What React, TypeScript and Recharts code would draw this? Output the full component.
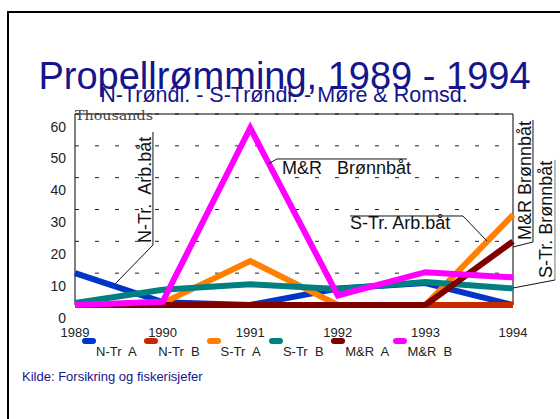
import React from 'react';
import {
  LineChart, Line, XAxis, YAxis, CartesianGrid, Legend, ReferenceArea, ReferenceLine, ReferenceDot
} from 'recharts';

// Thousands of escaped fish per year
const years = [1989, 1990, 1991, 1992, 1993, 1994];
const ntrA = [10, 0.9, 0, 5.2, 6.9, 0];
const ntrB = [0, 0, 0, 0, 0, 0];
const strA = [0, 0.6, 13.8, 0, 0, 28.3];
const strB = [0.6, 4.8, 6.5, 5, 7.2, 5.2];
const mrA = [0, 0, 0, 0, 0, 20];
const mrB = [0, 1, 55.6, 3, 10.3, 8.7];
const yTicks = [0, 10, 20, 30, 40, 50, 60];

const series = [
  { key: 'ntrA', name: 'N-Tr  A', color: '#0036c8', values: ntrA },
  { key: 'ntrB', name: 'N-Tr  B', color: '#c82a00', values: ntrB },
  { key: 'strA', name: 'S-Tr  A', color: '#ff8000', values: strA },
  { key: 'strB', name: 'S-Tr  B', color: '#008080', values: strB },
  { key: 'mrA', name: 'M&R  A', color: '#800000', values: mrA },
  { key: 'mrB', name: 'M&R  B', color: '#ff00ff', values: mrB },
];

const rows = years.map((year, i) => {
  const row: Record<string, number> = { year };
  series.forEach(s => { row[s.key] = s.values[i]; });
  return row;
});

const FONT = '"Liberation Sans", Arial, sans-serif';
const NAVY = '#15158c';

const YTick = (props: any) => (
  <text x={props.x - 9} y={props.y + 17.5} textAnchor="end" fontSize={14} fontFamily={FONT} fill="#222">
    {props.payload.value}
  </text>
);

const XTick = (props: any) => (
  <text x={props.x} y={props.y + 31.5} textAnchor="middle" fontSize={13} fontFamily={FONT} fill="#222">
    {props.payload.value}
  </text>
);

const flatLabel = (label: string) => (p: any) => (
  <text x={p.cx} y={p.cy} fontSize={18} fontFamily={FONT} fill="#111" style={{ whiteSpace: 'pre' }}>
    {label}
  </text>
);

const upLabel = (label: string) => (p: any) => (
  <text x={p.cx} y={p.cy} transform={`rotate(-90 ${p.cx} ${p.cy})`} fontSize={18} fontFamily={FONT}
    fill="#111" style={{ whiteSpace: 'pre' }}>
    {label}
  </text>
);

const LegendBox = (props: any) => {
  const items = [...(props.payload || [])].sort(
    (a: any, b: any) => series.findIndex(s => s.name === a.value) - series.findIndex(s => s.name === b.value)
  );
  return (
    <div style={{ display: 'flex', fontFamily: FONT, fontSize: 13, color: '#222' }}>
      {items.map((e: any) => (
        <div key={e.value} style={{ width: 62.3, position: 'relative', height: 24 }}>
          <div style={{ position: 'absolute', left: 0, top: 1, width: 14, height: 6, borderRadius: 3, background: e.color }} />
          <div style={{ position: 'absolute', left: 14, top: 7, whiteSpace: 'pre' }}>{e.value}</div>
        </div>
      ))}
    </div>
  );
};

const leader = { stroke: '#111', strokeWidth: 1 };

export default function App() {
  return (
    <div style={{ position: 'absolute', left: 0, top: 0, width: 560, height: 419, overflow: 'hidden', background: '#fff' }}>
      <div style={{ position: 'absolute', left: 7, top: 11, width: 700, height: 600, border: '2.5px solid #000' }} />
      <svg width={560} height={419} style={{ position: 'absolute', left: 0, top: 0 }}>
        <text x={284.5} y={89} textAnchor="middle" fontSize={38} fontFamily={FONT} fill={NAVY}>
          Propellrømming, 1989 - 1994
        </text>
        <text x={284} y={102} textAnchor="middle" fontSize={21.5} fontFamily={FONT} fill={NAVY}>
          N-Trøndl. - S-Trøndl. - Møre &amp; Romsd.
        </text>
        <text x={22} y={381} fontSize={13} fontFamily={FONT} fill={NAVY}>
          Kilde: Forsikring og fiskerisjefer
        </text>
      </svg>
      <div style={{ position: 'absolute', left: 0, top: 0 }}>
        <LineChart width={560} height={419} data={rows} margin={{ top: 114, right: 47, bottom: 84, left: 35 }}>
          <CartesianGrid vertical={false} stroke="#222" strokeDasharray="4 16" />
          <XAxis dataKey="year" type="number" domain={[1989, 1994]} ticks={years} axisLine={false}
            tickLine={false} tickSize={0} tickMargin={0} height={30} tick={<XTick />} interval={0} />
          <YAxis domain={[0, 60]} ticks={yTicks} axisLine={false} tickLine={false} tickSize={0}
            tickMargin={0} width={40} tick={<YTick />} interval={0} />
          <ReferenceArea x1={1989} x2={1994} y1={0} y2={60} fill="none" fillOpacity={0} stroke="#000" strokeWidth={1} />
          <Legend layout="vertical" align="center" verticalAlign="middle" content={<LegendBox />}
            wrapperStyle={{ left: 82, top: 337, width: 420, height: 30 }} />
          {series.map(s => (
            <Line key={s.key} dataKey={s.key} name={s.name} stroke={s.color} strokeWidth={6}
              dot={false} activeDot={false} isAnimationActive={false} legendType="line" />
          ))}

          {/* N-Tr. Arb.båt */}
          <ReferenceLine segment={[{ x: 1989.89, y: 54.35 }, { x: 1989.89, y: 18.85 }]} {...leader} ifOverflow="visible" />
          <ReferenceLine segment={[{ x: 1989.89, y: 18.85 }, { x: 1989.457, y: 6.6 }]} {...leader} ifOverflow="visible" />
          <ReferenceDot x={1989.862} y={19.48} r={0} ifOverflow="visible" shape={upLabel('N-Tr.  Arb.båt')} />

          {/* M&R Brønnbåt (flat) */}
          <ReferenceLine segment={[{ x: 1991.306, y: 45.87 }, { x: 1992.79, y: 45.87 }]} {...leader} ifOverflow="visible" />
          <ReferenceLine segment={[{ x: 1991.306, y: 45.87 }, { x: 1991.203, y: 44.3 }]} {...leader} ifOverflow="visible" />
          <ReferenceDot x={1991.363} y={41.0} r={0} ifOverflow="visible" shape={flatLabel('M&R   Brønnbåt')} />

          {/* S-Tr. Arb.båt */}
          <ReferenceLine segment={[{ x: 1992.139, y: 27.96 }, { x: 1993.429, y: 27.96 }]} {...leader} ifOverflow="visible" />
          <ReferenceLine segment={[{ x: 1993.429, y: 27.96 }, { x: 1993.703, y: 20.1 }]} {...leader} ifOverflow="visible" />
          <ReferenceDot x={1992.139} y={23.72} r={0} ifOverflow="visible" shape={flatLabel('S-Tr. Arb.båt')} />

          {/* M&R Brønnbåt (upright) */}
          <ReferenceLine segment={[{ x: 1994.228, y: 58.12 }, { x: 1994.228, y: 19.79 }]} {...leader} ifOverflow="visible" />
          <ReferenceLine segment={[{ x: 1994.228, y: 19.79 }, { x: 1994, y: 18.22 }]} {...leader} ifOverflow="visible" />
          <ReferenceDot x={1994.205} y={20.42} r={0} ifOverflow="visible" shape={upLabel('M&R Brønnbåt')} />

          {/* S-Tr. Brønnbåt */}
          <ReferenceLine segment={[{ x: 1994.479, y: 45.55 }, { x: 1994.479, y: 7.85 }]} stroke="#777" strokeWidth={1} ifOverflow="visible" />
          <ReferenceLine segment={[{ x: 1994.479, y: 7.85 }, { x: 1994, y: 5.34 }]} {...leader} ifOverflow="visible" />
          <ReferenceDot x={1994.445} y={8.48} r={0} ifOverflow="visible" shape={upLabel('S-Tr. Brønnbåt')} />
        </LineChart>
      </div>
      <svg width={560} height={419} style={{ position: 'absolute', left: 0, top: 0, pointerEvents: 'none' }}>
        <text x={75} y={120} fontSize={12.5} fontFamily='"DejaVu Serif", serif' fill="#444"
          textLength={78} lengthAdjust="spacingAndGlyphs">
          Thousands
        </text>
      </svg>
    </div>
  );
}
